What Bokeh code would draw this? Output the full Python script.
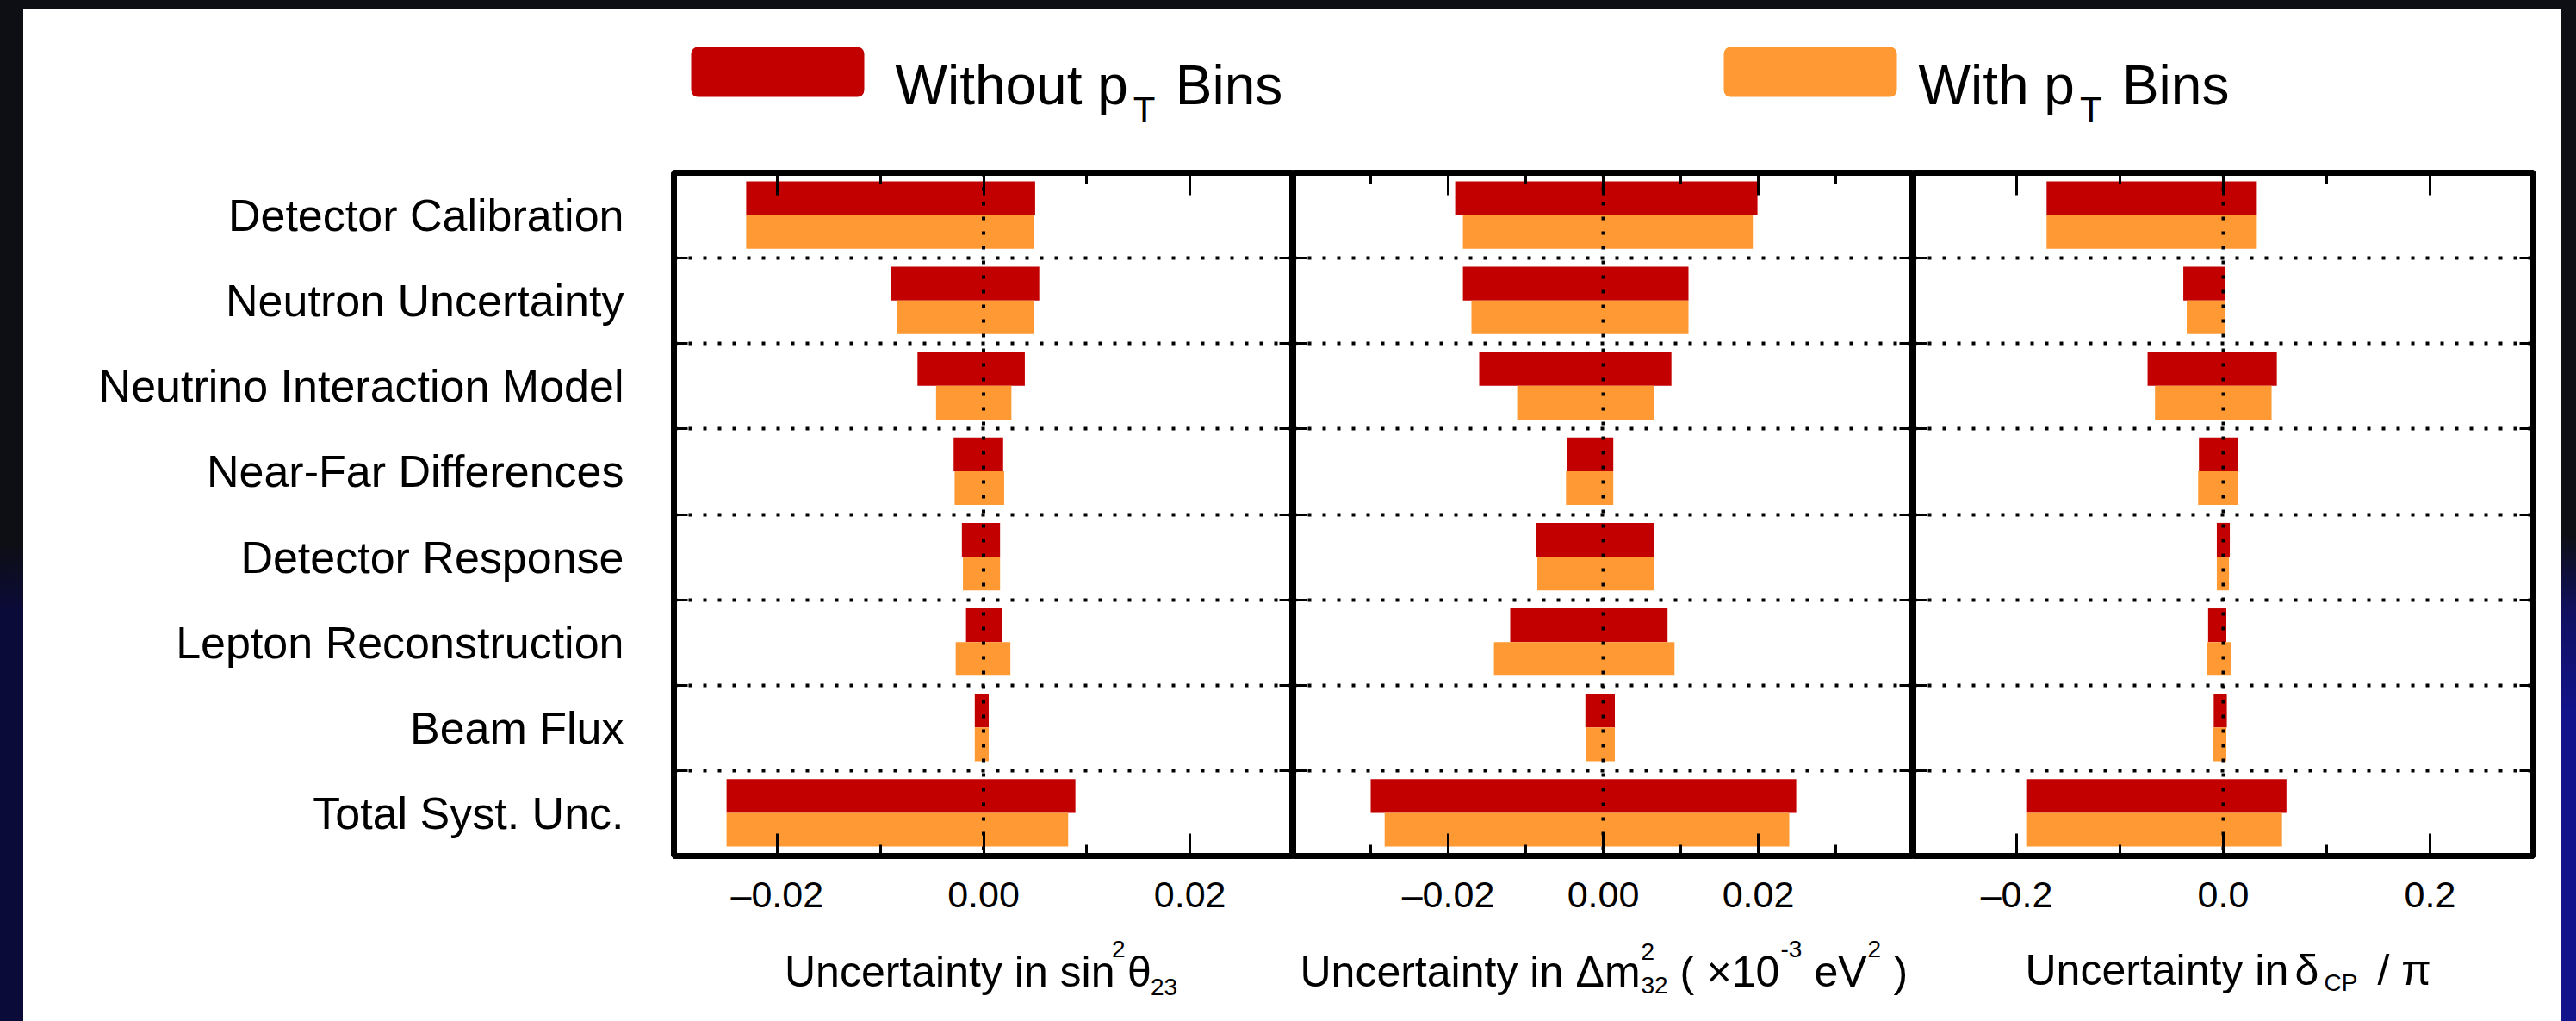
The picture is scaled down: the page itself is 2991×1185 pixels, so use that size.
from bokeh.plotting import figure
from bokeh.models import (Range1d, FixedTicker, CustomJSTickFormatter, LinearAxis, Grid,
                          Span, Label, BoxAnnotation, Spacer)
from bokeh.layouts import row, column
from bokeh.embed import file_html
from bokeh.resources import INLINE

# ---------------- data ----------------
categories = ["Detector Calibration", "Neutron Uncertainty", "Neutrino Interaction Model",
              "Near-Far Differences", "Detector Response", "Lepton Reconstruction",
              "Beam Flux", "Total Syst. Unc."]
legend_labels = ["Without p", "With p"]

# sin^2 theta_23
th23_without_lo = [-0.0230, -0.0090, -0.0064, -0.0029, -0.0021, -0.0017, -0.00085, -0.0249]
th23_without_hi = [0.0050, 0.0054, 0.0040, 0.0019, 0.0016, 0.0018, 0.0005, 0.0089]
th23_with_lo = [-0.0230, -0.0084, -0.0046, -0.0028, -0.0020, -0.0027, -0.00085, -0.0249]
th23_with_hi = [0.0049, 0.0049, 0.0027, 0.0020, 0.0016, 0.0026, 0.0005, 0.0082]

# Delta m^2_32 (x1e-3 eV^2)
dm32_without_lo = [-0.0191, -0.0181, -0.0160, -0.0047, -0.0087, -0.0120, -0.0023, -0.0300]
dm32_without_hi = [0.0199, 0.0110, 0.0088, 0.0013, 0.0066, 0.0083, 0.0015, 0.0249]
dm32_with_lo = [-0.0181, -0.0170, -0.0111, -0.0048, -0.0085, -0.0141, -0.0022, -0.0282]
dm32_with_hi = [0.0193, 0.0110, 0.0066, 0.0013, 0.0066, 0.0092, 0.0015, 0.0240]

# delta_CP / pi
dcp_without_lo = [-0.171, -0.0387, -0.0733, -0.0236, -0.0063, -0.0147, -0.0093, -0.1907]
dcp_without_hi = [0.0324, 0.0021, 0.0518, 0.0139, 0.0063, 0.0029, 0.0034, 0.0611]
dcp_with_lo = [-0.171, -0.0354, -0.0661, -0.0244, -0.0063, -0.0160, -0.0101, -0.1907]
dcp_with_hi = [0.0324, 0.0021, 0.0467, 0.0139, 0.0055, 0.0076, 0.0029, 0.0568]

th23_range = (-0.03, 0.03)
th23_major = [-0.02, 0.0, 0.02]
th23_minor = [-0.03, -0.01, 0.01, 0.03]
dm32_range = (-0.04, 0.04)
dm32_major = [-0.02, 0.0, 0.02]
dm32_minor = [-0.03, -0.01, 0.01, 0.03]
dcp_range = (-0.3, 0.3)
dcp_major = [-0.2, 0.0, 0.2]
dcp_minor = [-0.1, 0.1]

# ---------------- style / geometry ----------------
RED = "#c30000"
ORANGE = "#fe9933"
DARK = "#0e0e15"
FONT = "Liberation Sans"

n = len(categories)
tops = [n - i for i in range(n)]
centers = [t - 0.5 for t in tops]
bounds = list(range(1, n))
red_y = [t - 0.2975 for t in tops]
orange_y = [t - 0.6925 for t in tops]

PAGE_W, PAGE_H = 2991, 1185
X0, Y0 = 27, 11                  # white area origin
X1 = 2974                        # white area right
CW = X1 - X0                     # content width
LEG_H = 139
FOOT_H = 115
PANEL_H = PAGE_H - Y0 - LEG_H - FOOT_H
BORDER_TOP = 50
BORDER_BOTTOM = 77
A_W, A_BL = 1474, 755
B_W = 720
C_W, C_BR = 753, 33
centerA = X0 + A_BL + (A_W - A_BL) / 2
centerB = X0 + A_W + B_W / 2
centerC = X0 + A_W + B_W + (C_W - C_BR) / 2


def num_formatter(digits):
    return CustomJSTickFormatter(
        args=dict(digits=digits),
        code="const s = Math.abs(tick).toFixed(digits); return (tick < -1e-9) ? '\\u2013' + s : s;")


def tick_axis(minor_list, length):
    ax = LinearAxis(ticker=FixedTicker(ticks=[], minor_ticks=minor_list))
    ax.axis_line_color = None
    ax.major_tick_line_color = None
    ax.major_tick_in = 0
    ax.major_tick_out = 0
    ax.minor_tick_in = length
    ax.minor_tick_out = 0
    ax.minor_tick_line_width = 3
    ax.minor_tick_line_color = "black"
    ax.major_label_standoff = 0
    return ax


def make_panel(width, bl, br, xr, major, minor, digits, wo_lo, wo_hi, w_lo, w_hi, show_cats):
    p = figure(width=width, height=PANEL_H, x_range=Range1d(*xr), y_range=Range1d(0, n),
               x_axis_type=None, y_axis_type=None, output_backend="svg",
               toolbar_location=None, min_border_left=bl, min_border_right=br,
               min_border_top=BORDER_TOP, min_border_bottom=BORDER_BOTTOM)
    p.background_fill_color = "white"
    p.border_fill_color = "white"
    p.outline_line_color = "black"
    p.outline_line_width = 7
    p.outline_line_alpha = 1.0

    grid = Grid(dimension=1, ticker=FixedTicker(ticks=bounds), grid_line_color="black",
                grid_line_dash="4 13", grid_line_width=4)
    p.add_layout(grid)

    p.hbar(y=red_y, left=wo_lo, right=wo_hi, height=0.395, fill_color=RED, line_color=None)
    p.hbar(y=orange_y, left=w_lo, right=w_hi, height=0.395, fill_color=ORANGE, line_color=None)

    p.add_layout(Span(location=0, dimension="height", line_color="black", line_width=4,
                      line_dash="4 13"))

    # bottom axis with labels
    ax = LinearAxis(ticker=FixedTicker(ticks=major, minor_ticks=minor),
                    formatter=num_formatter(digits))
    ax.axis_line_color = None
    ax.major_tick_in = 26
    ax.major_tick_out = 0
    ax.major_tick_line_width = 3
    ax.minor_tick_in = 13
    ax.minor_tick_out = 0
    ax.minor_tick_line_width = 3
    ax.minor_tick_line_color = "black"
    ax.major_label_text_font = FONT
    ax.major_label_text_font_size = "43px"
    ax.major_label_text_color = "black"
    ax.major_label_standoff = 20
    p.add_layout(ax, "below")

    # top ticks (no labels)
    p.add_layout(tick_axis(major, 26), "above")
    p.add_layout(tick_axis(minor, 13), "above")

    # left axis
    if show_cats:
        ay = LinearAxis(ticker=FixedTicker(ticks=centers, minor_ticks=bounds))
        ay.axis_line_color = None
        ay.major_tick_in = 0
        ay.major_tick_out = 0
        ay.major_tick_line_color = None
        ay.minor_tick_in = 16
        ay.minor_tick_out = 0
        ay.minor_tick_line_width = 3
        ay.minor_tick_line_color = "black"
        ay.formatter = CustomJSTickFormatter(
            args=dict(cats=categories, n=n),
            code="return cats[Math.round(n - 0.5 - tick)];")
        ay.major_label_text_font = FONT
        ay.major_label_text_font_size = "52px"
        ay.major_label_text_color = "black"
        ay.major_label_standoff = 58
        p.add_layout(ay, "left")
    else:
        p.add_layout(tick_axis(bounds, 16), "left")
    p.add_layout(tick_axis(bounds, 16), "right")
    return p


pA = make_panel(A_W, A_BL, 0, th23_range, th23_major, th23_minor, 2,
                th23_without_lo, th23_without_hi, th23_with_lo, th23_with_hi, True)
pB = make_panel(B_W, 0, 0, dm32_range, dm32_major, dm32_minor, 2,
                dm32_without_lo, dm32_without_hi, dm32_with_lo, dm32_with_hi, False)
pC = make_panel(C_W, 0, C_BR, dcp_range, dcp_major, dcp_minor, 1,
                dcp_without_lo, dcp_without_hi, dcp_with_lo, dcp_with_hi, False)


def text_fig(height, y_top):
    f = figure(width=CW, height=height, x_range=Range1d(X0, X1),
               y_range=Range1d(y_top + height, y_top),
               x_axis_type=None, y_axis_type=None, output_backend="svg",
               toolbar_location=None, min_border_left=0, min_border_right=0,
               min_border_top=0, min_border_bottom=0)
    f.outline_line_color = None
    f.background_fill_color = "white"
    f.border_fill_color = "white"
    return f


def put(f, x, y, text, size, font=FONT):
    f.add_layout(Label(x=x, y=y, text=text, text_font=font, text_font_size=f"{size}px",
                       text_color="black", text_baseline="alphabetic", text_align="left"))


# ---------------- legend ----------------
leg = text_fig(LEG_H, Y0)
widths = {"W": .944, "i": .222, "t": .278, "h": .556, "o": .556, "u": .556, " ": .278, "p": .556}
legend_items = [(legend_labels[0], RED, 802, 1039), (legend_labels[1], ORANGE, 2001, 2227)]
for label, color, sx, tx in legend_items:
    leg.add_layout(BoxAnnotation(left=sx, right=sx + 201, top=54, bottom=112,
                                 fill_color=color, fill_alpha=1.0, line_color=None,
                                 border_radius=8))
    w = sum(widths.get(ch, .556) for ch in label) * 64
    put(leg, tx, 98, label, 64)
    put(leg, tx + w + 6, 127, "T", 42)
    put(leg, tx + w + 55, 98, "Bins", 64)

# ---------------- axis titles (footer) ----------------
foot = text_fig(FOOT_H, PAGE_H - FOOT_H)
th23_title = [("Uncertainty in sin", 50, -231, 1127),
              ("2", 28, 149, 1101),
              ("\u03b8", 50, 167, 1127),
              ("23", 28, 194, 1145)]
dm32_title = [("Uncertainty in", 50, -352, 1127),
              ("\u0394m", 50, -32, 1127),
              ("2", 28, 44, 1104),
              ("32", 28, 44, 1143),
              ("(", 50, 89, 1127),
              ("\u00d710", 50, 120, 1127),
              ("-3", 28, 206, 1101),
              ("eV", 50, 245, 1127),
              ("2", 28, 307, 1101),
              (")", 50, 337, 1127)]
dcp_title = [("Uncertainty in", 50, -230, 1125),
             ("\u03b4", 50, 83, 1125),
             ("CP", 28, 117, 1140),
             ("/ \u03c0", 50, 179, 1125)]
for cx, parts in [(centerA, th23_title), (centerB, dm32_title), (centerC, dcp_title)]:
    for text, size, dx, base in parts:
        put(foot, cx + dx, base, text, size)

# ---------------- page ----------------
top_strip = Spacer(width=PAGE_W, height=Y0, styles={"background-color": DARK})
left_strip = Spacer(width=X0, height=PAGE_H - Y0, styles={
    "background": f"linear-gradient(to bottom, {DARK} 0px, {DARK} 620px, #0b0b3a 700px, #0b0b3a 100%)"})
right_strip = Spacer(width=PAGE_W - X1, height=PAGE_H - Y0, styles={
    "background": f"linear-gradient(to bottom, {DARK} 0px, {DARK} 610px, #101060 700px, #13138c 820px, #13138c 100%)"})

content = column(leg, row(pA, pB, pC, spacing=0), foot, spacing=0)
page = column(top_strip, row(left_strip, content, right_strip, spacing=0), spacing=0)

open("out.html", "w").write(file_html(page, INLINE))
